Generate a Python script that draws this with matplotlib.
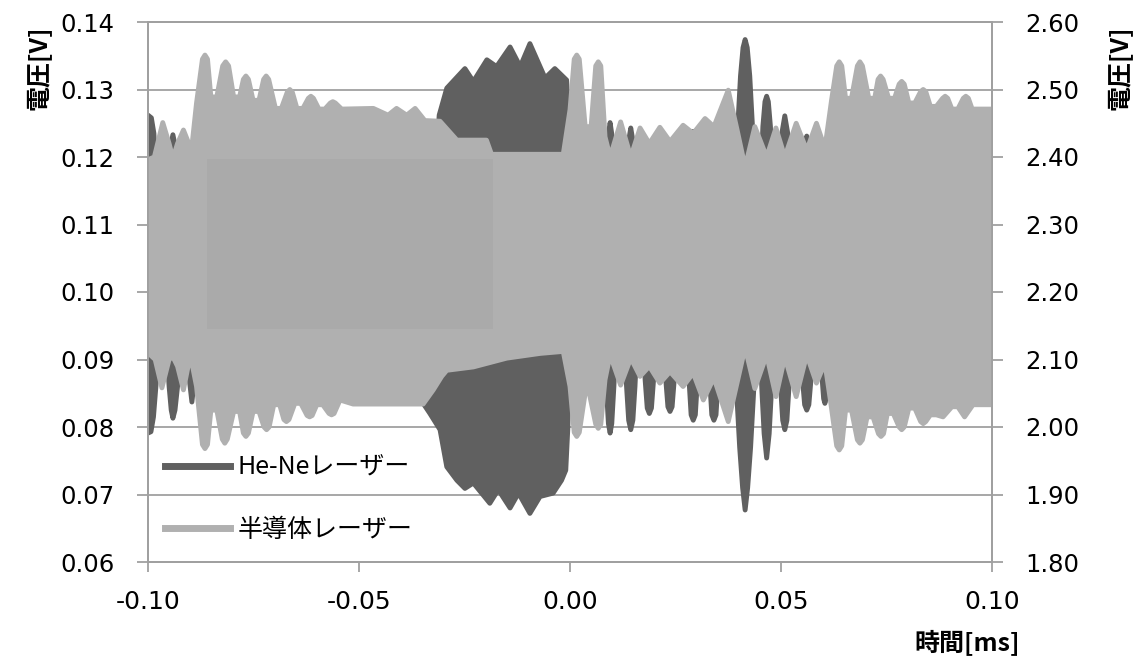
import numpy as np
import matplotlib
matplotlib.use("Agg")
import matplotlib.pyplot as plt
from matplotlib.lines import Line2D
from matplotlib.patches import Rectangle

plt.rcParams['font.family'] = ['DejaVu Sans', 'Noto Sans CJK JP']
JP = ['Noto Sans CJK JP', 'DejaVu Sans']

# envelope of the He-Ne signal (left axis), (time ms, volt)
HENE_UPPER = [
    (-0.1000, 0.1262), (-0.0992, 0.1258), (-0.0986, 0.1235), (-0.0980, 0.1160),
    (-0.0952, 0.1160), (-0.0947, 0.1215), (-0.0941, 0.1233), (-0.0935, 0.1215), (-0.0930, 0.1160),
    (-0.0320, 0.1160), (-0.0310, 0.1262), (-0.0292, 0.1302), (-0.0249, 0.1331), (-0.0229, 0.1312),
    (-0.0197, 0.1344), (-0.0174, 0.1334), (-0.0142, 0.1363), (-0.0118, 0.1334), (-0.0095, 0.1368),
    (-0.0059, 0.1317), (-0.0036, 0.1331), (-0.0008, 0.1314), (-0.0002, 0.1250), (0.0002, 0.1160),
    (0.0085, 0.1160), (0.0090, 0.1230), (0.0095, 0.1251), (0.0100, 0.1230), (0.0105, 0.1160),
    (0.0135, 0.1160), (0.0140, 0.1228), (0.0144, 0.1243), (0.0148, 0.1228), (0.0153, 0.1160),
    (0.0285, 0.1160), (0.0292, 0.1238), (0.0299, 0.1160),
    (0.0392, 0.1160), (0.0398, 0.1250), (0.0404, 0.1320), (0.0410, 0.1362), (0.0415, 0.1374),
    (0.0420, 0.1362), (0.0426, 0.1320), (0.0432, 0.1250), (0.0438, 0.1160),
    (0.0452, 0.1160), (0.0457, 0.1245), (0.0462, 0.1282), (0.0466, 0.1290), (0.0470, 0.1282),
    (0.0475, 0.1245), (0.0480, 0.1160),
    (0.0497, 0.1160), (0.0502, 0.1235), (0.0509, 0.1261), (0.0516, 0.1235), (0.0521, 0.1160),
    (0.0552, 0.1160), (0.0557, 0.1220), (0.0561, 0.1231), (0.0565, 0.1220), (0.0570, 0.1160),
    (0.1000, 0.1160),
]
HENE_LOWER = [
    (-0.1000, 0.0791), (-0.0993, 0.0793), (-0.0987, 0.0815), (-0.0980, 0.0870), (-0.0975, 0.0940),
    (-0.0958, 0.0940), (-0.0950, 0.0860), (-0.0945, 0.0825), (-0.0941, 0.0813), (-0.0936, 0.0825),
    (-0.0930, 0.0860), (-0.0923, 0.0940),
    (-0.0908, 0.0940), (-0.0902, 0.0870), (-0.0896, 0.0837), (-0.0890, 0.0870), (-0.0884, 0.0940),
    (-0.0355, 0.0940), (-0.0348, 0.0835), (-0.0332, 0.0820), (-0.0308, 0.0796), (-0.0292, 0.0741),
    (-0.0268, 0.0721), (-0.0249, 0.0709), (-0.0229, 0.0717), (-0.0190, 0.0687), (-0.0170, 0.0707),
    (-0.0142, 0.0680), (-0.0122, 0.0702), (-0.0095, 0.0672), (-0.0071, 0.0697), (-0.0040, 0.0702),
    (-0.0020, 0.0721), (-0.0010, 0.0736), (-0.0005, 0.0800), (0.0000, 0.0940),
    (0.0080, 0.0940), (0.0086, 0.0860), (0.0091, 0.0805), (0.0095, 0.0791), (0.0099, 0.0805),
    (0.0104, 0.0860), (0.0110, 0.0940),
    (0.0128, 0.0940), (0.0134, 0.0860), (0.0139, 0.0810), (0.0144, 0.0796), (0.0149, 0.0810),
    (0.0154, 0.0860), (0.0160, 0.0940),
    (0.0172, 0.0940), (0.0178, 0.0870), (0.0183, 0.0828), (0.0188, 0.0820), (0.0193, 0.0828),
    (0.0198, 0.0870), (0.0204, 0.0940),
    (0.0221, 0.0940), (0.0227, 0.0870), (0.0232, 0.0830), (0.0237, 0.0823), (0.0242, 0.0830),
    (0.0247, 0.0870), (0.0253, 0.0940),
    (0.0276, 0.0940), (0.0282, 0.0870), (0.0287, 0.0818), (0.0292, 0.0810), (0.0297, 0.0818),
    (0.0302, 0.0870), (0.0308, 0.0940),
    (0.0325, 0.0940), (0.0331, 0.0870), (0.0336, 0.0818), (0.0341, 0.0810), (0.0346, 0.0818),
    (0.0351, 0.0870), (0.0357, 0.0940),
    (0.0389, 0.0940), (0.0395, 0.0850), (0.0402, 0.0770), (0.0409, 0.0710), (0.0415, 0.0677),
    (0.0421, 0.0710), (0.0428, 0.0770), (0.0435, 0.0850), (0.0441, 0.0940),
    (0.0449, 0.0940), (0.0455, 0.0850), (0.0460, 0.0790), (0.0466, 0.0754), (0.0472, 0.0790),
    (0.0477, 0.0850), (0.0483, 0.0940),
    (0.0493, 0.0940), (0.0499, 0.0860), (0.0504, 0.0810), (0.0509, 0.0796), (0.0514, 0.0810),
    (0.0519, 0.0860), (0.0525, 0.0940),
    (0.0545, 0.0940), (0.0551, 0.0870), (0.0556, 0.0833), (0.0561, 0.0825), (0.0566, 0.0833),
    (0.0571, 0.0870), (0.0577, 0.0940),
    (0.0592, 0.0940), (0.0597, 0.0875), (0.0601, 0.0842), (0.0604, 0.0835), (0.0607, 0.0842),
    (0.0611, 0.0875), (0.0616, 0.0940),
    (0.1000, 0.0940),
]

# envelope of the semiconductor laser signal (right axis)
SEMI_UPPER = [
    (-0.1000, 2.396), (-0.0985, 2.400), (-0.0965, 2.451), (-0.0950, 2.420), (-0.0941, 2.398),
    (-0.0930, 2.420), (-0.0916, 2.440), (-0.0897, 2.410),
    (-0.0885, 2.480), (-0.0871, 2.545), (-0.0865, 2.551), (-0.0859, 2.545), (-0.0851, 2.489),
    (-0.0837, 2.489), (-0.0823, 2.535), (-0.0816, 2.541), (-0.0809, 2.535), (-0.0797, 2.489),
    (-0.0783, 2.489), (-0.0774, 2.515), (-0.0768, 2.520), (-0.0762, 2.515), (-0.0751, 2.484),
    (-0.0737, 2.484), (-0.0726, 2.515), (-0.0720, 2.520), (-0.0714, 2.515), (-0.0698, 2.472),
    (-0.0684, 2.472), (-0.0670, 2.496), (-0.0664, 2.500), (-0.0658, 2.496), (-0.0647, 2.472),
    (-0.0633, 2.472), (-0.0620, 2.487), (-0.0614, 2.490), (-0.0608, 2.487), (-0.0595, 2.471),
    (-0.0581, 2.471), (-0.0568, 2.480), (-0.0562, 2.482), (-0.0556, 2.480), (-0.0541, 2.471),
    (-0.0466, 2.472), (-0.0431, 2.462), (-0.0411, 2.472), (-0.0387, 2.462), (-0.0367, 2.472),
    (-0.0344, 2.454), (-0.0308, 2.453), (-0.0268, 2.425), (-0.0198, 2.425), (-0.0186, 2.404),
    (-0.0016, 2.404), (0.0000, 2.470), (0.0010, 2.545), (0.0016, 2.551), (0.0022, 2.545),
    (0.0036, 2.445), (0.0050, 2.445), (0.0061, 2.535), (0.0067, 2.541), (0.0073, 2.535),
    (0.0083, 2.430), (0.0095, 2.400), (0.0120, 2.452), (0.0144, 2.400), (0.0166, 2.443),
    (0.0188, 2.420), (0.0213, 2.444), (0.0237, 2.423), (0.0268, 2.447), (0.0292, 2.435),
    (0.0320, 2.457), (0.0341, 2.445), (0.0375, 2.499), (0.0396, 2.440), (0.0415, 2.385),
    (0.0438, 2.445), (0.0466, 2.400), (0.0488, 2.443), (0.0509, 2.400), (0.0536, 2.450),
    (0.0561, 2.410), (0.0584, 2.450), (0.0604, 2.413),
    (0.0620, 2.485), (0.0632, 2.535), (0.0638, 2.541), (0.0644, 2.535), (0.0653, 2.487),
    (0.0667, 2.487), (0.0681, 2.535), (0.0687, 2.541), (0.0693, 2.535), (0.0708, 2.487),
    (0.0722, 2.487), (0.0730, 2.515), (0.0736, 2.520), (0.0742, 2.515), (0.0755, 2.487),
    (0.0769, 2.487), (0.0780, 2.508), (0.0786, 2.512), (0.0792, 2.508), (0.0803, 2.480),
    (0.0817, 2.480), (0.0831, 2.497), (0.0837, 2.500), (0.0843, 2.497), (0.0854, 2.475),
    (0.0868, 2.475), (0.0883, 2.487), (0.0889, 2.490), (0.0895, 2.487), (0.0905, 2.471),
    (0.0919, 2.471), (0.0932, 2.487), (0.0938, 2.490), (0.0944, 2.487), (0.0953, 2.471),
    (0.1000, 2.471),
]
SEMI_LOWER = [
    (-0.1000, 2.110), (-0.0983, 2.100), (-0.0967, 2.058), (-0.0950, 2.100), (-0.0941, 2.104),
    (-0.0930, 2.090), (-0.0916, 2.055), (-0.0905, 2.090), (-0.0896, 2.095), (-0.0885, 2.060),
    (-0.0871, 1.974), (-0.0865, 1.968), (-0.0859, 1.974), (-0.0851, 2.025), (-0.0837, 2.025),
    (-0.0824, 1.982), (-0.0818, 1.976), (-0.0812, 1.982), (-0.0797, 2.023), (-0.0783, 2.023),
    (-0.0774, 1.991), (-0.0768, 1.986), (-0.0762, 1.991), (-0.0751, 2.023), (-0.0737, 2.023),
    (-0.0725, 2.000), (-0.0719, 1.996), (-0.0713, 2.000), (-0.0702, 2.033), (-0.0688, 2.033),
    (-0.0678, 2.011), (-0.0672, 2.008), (-0.0666, 2.011), (-0.0652, 2.035), (-0.0638, 2.035),
    (-0.0623, 2.017), (-0.0617, 2.015), (-0.0611, 2.017), (-0.0600, 2.033), (-0.0586, 2.033),
    (-0.0571, 2.020), (-0.0565, 2.018), (-0.0559, 2.020), (-0.0545, 2.040), (-0.0514, 2.034),
    (-0.0348, 2.034), (-0.0324, 2.055), (-0.0304, 2.075), (-0.0292, 2.084), (-0.0229, 2.089),
    (-0.0150, 2.102), (-0.0071, 2.109), (-0.0016, 2.112), (0.0000, 2.060), (0.0010, 1.992),
    (0.0016, 1.986), (0.0022, 1.992), (0.0040, 2.067), (0.0061, 2.004), (0.0067, 1.998),
    (0.0073, 2.004), (0.0083, 2.070), (0.0095, 2.107), (0.0120, 2.062),
    (0.0144, 2.102), (0.0166, 2.075), (0.0188, 2.090), (0.0213, 2.065), (0.0237, 2.082),
    (0.0268, 2.060), (0.0292, 2.080), (0.0316, 2.040), (0.0341, 2.073), (0.0375, 2.008),
    (0.0415, 2.118), (0.0438, 2.057), (0.0466, 2.107), (0.0488, 2.045), (0.0509, 2.104),
    (0.0536, 2.045), (0.0561, 2.107), (0.0584, 2.065), (0.0604, 2.095), (0.0617, 2.040),
    (0.0632, 1.972), (0.0638, 1.966), (0.0644, 1.972), (0.0653, 2.025), (0.0667, 2.025),
    (0.0681, 1.981), (0.0687, 1.976), (0.0693, 1.981), (0.0704, 2.015), (0.0718, 2.015),
    (0.0731, 1.990), (0.0737, 1.986), (0.0743, 1.990), (0.0752, 2.020), (0.0766, 2.020),
    (0.0780, 2.000), (0.0786, 1.996), (0.0792, 2.000), (0.0803, 2.028), (0.0817, 2.028),
    (0.0831, 2.008), (0.0837, 2.005), (0.0843, 2.008), (0.0854, 2.018), (0.0868, 2.018),
    (0.0884, 2.015), (0.0905, 2.030), (0.0919, 2.030), (0.0935, 2.015), (0.0955, 2.033),
    (0.1000, 2.033),
]

LABELS = ['He-Neレーザー', '半導体レーザー']
X_TICKS = [-0.10, -0.05, 0.00, 0.05, 0.10]
X_TICKLABELS = ['-0.10', '-0.05', '0.00', '0.05', '0.10']
LEFT_TICKS = [0.06, 0.07, 0.08, 0.09, 0.10, 0.11, 0.12, 0.13, 0.14]
RIGHT_TICKS = [1.80, 1.90, 2.00, 2.10, 2.20, 2.30, 2.40, 2.50, 2.60]

DARK = '#606060'
LIGHT = '#b0b0b0'
GRID = '#a0a0a0'


def envelope(ax, upper, lower, color, z):
    up = np.array(upper)
    lo = np.array(lower)
    xs = np.r_[up[:, 0], lo[::-1, 0]]
    ys = np.r_[up[:, 1], lo[::-1, 1]]
    # thick round edge imitates the heavy trace line of the scope export
    ax.fill(xs, ys, fc=color, ec=color, lw=3.5, joinstyle='round', zorder=z)


fig = plt.figure(figsize=(11.4, 6.64), dpi=100)
ax = fig.add_axes([148 / 1140, 1 - 562 / 664, 844 / 1140, 540 / 664])
ax2 = ax.twinx()

envelope(ax, HENE_UPPER, HENE_LOWER, DARK, 2)
envelope(ax2, SEMI_UPPER, SEMI_LOWER, LIGHT, 2)
# slightly darker block inside the trace, as in the source image
ax2.add_patch(Rectangle((0.0695, 0.4315), 0.339, 0.3148, transform=ax2.transAxes,
                        fc='#aaaaaa', ec='none', zorder=3))

ax.set_xlim(-0.1, 0.1)
ax.set_ylim(0.06, 0.14)
ax2.set_ylim(1.8, 2.6)

ax.set_xticks(X_TICKS)
ax.set_xticklabels(X_TICKLABELS)
ax.set_yticks(LEFT_TICKS)
ax.set_yticklabels(['%.2f' % v for v in LEFT_TICKS])
ax2.set_yticks(RIGHT_TICKS)
ax2.set_yticklabels(['%.2f' % v for v in RIGHT_TICKS])

ax.set_axisbelow(True)
ax.yaxis.grid(True, color=GRID, lw=1.3)
for a in (ax, ax2):
    for s in a.spines.values():
        s.set_color(GRID)
        s.set_linewidth(1.3)

ax.tick_params(axis='y', direction='out', length=8, width=1.3, color=GRID, pad=16, labelsize=17.5)
ax2.tick_params(axis='y', direction='out', length=8, width=1.3, color=GRID, pad=16, labelsize=17.5)
ax.tick_params(axis='x', direction='out', length=7, width=1.3, color=GRID, pad=13, labelsize=18)

handles = [Line2D([], [], color=DARK, lw=5), Line2D([], [], color=LIGHT, lw=5)]
ax2.legend(handles, LABELS, loc='lower left', bbox_to_anchor=(0.02, 0.035), frameon=False,
           prop={'family': JP, 'size': 18}, handlelength=2.6, handletextpad=0.3,
           labelspacing=1.45, borderpad=0, borderaxespad=0)

fig.text(39 / 1140, 1 - 26 / 664, '電圧[V]', rotation=90, ha='center', va='top',
         fontsize=18, fontweight='bold', family=JP)
fig.text(1120 / 1140, 1 - 26 / 664, '電圧[V]', rotation=90, ha='center', va='top',
         fontsize=18, fontweight='bold', family=JP)
fig.text(1020 / 1140, 1 - 643 / 664, '時間[ms]', ha='right', va='center',
         fontsize=18, fontweight='bold', family=JP)

fig.savefig('out.png', dpi=100)
